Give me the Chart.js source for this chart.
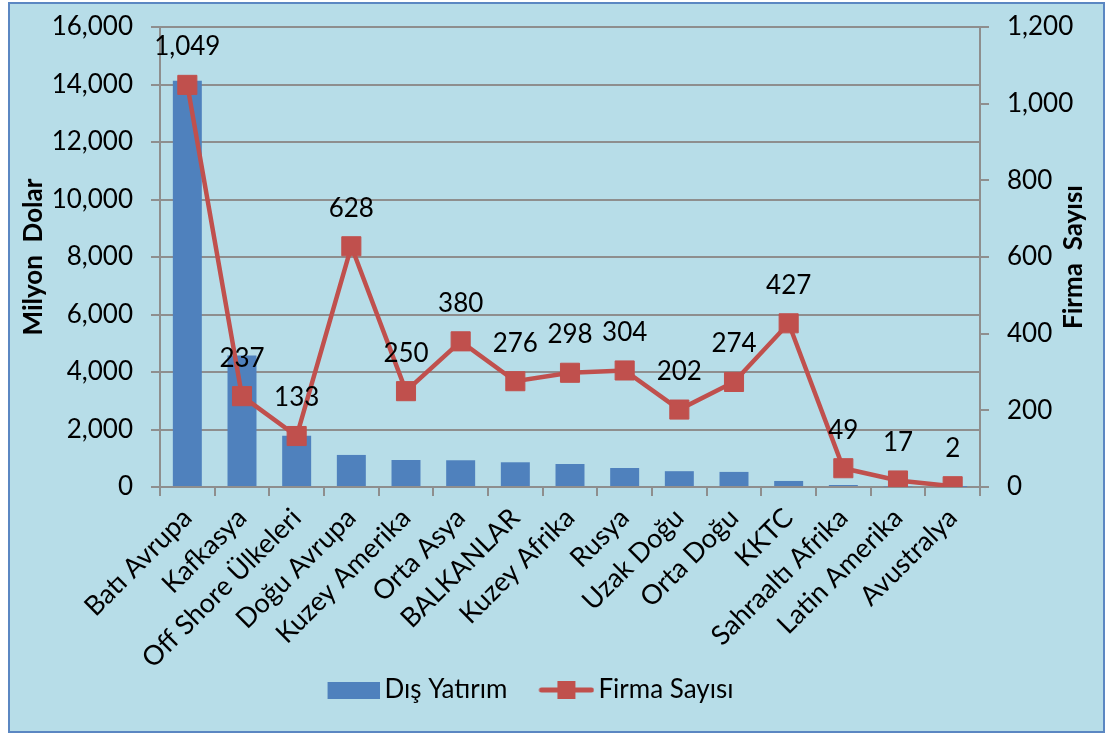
<!DOCTYPE html>
<html>
<head>
<meta charset="utf-8">
<script src="https://cdn.jsdelivr.net/npm/chart.js@4.4.0/dist/chart.umd.min.js"></script>
<style>
  html, body { margin: 0; padding: 0; background: #ffffff; }
  #frame { position: absolute; left: 8px; top: 2px; width: 1093px; height: 727px;
           border: 2px solid #5b87c2; background: #b7dde8; }
  #wrap { position: absolute; left: 0; top: 0; width: 1109px; height: 733px; }
</style>
</head>
<body>
<div id="frame"></div>
<div id="wrap"><canvas id="c" width="1109" height="733"></canvas></div>
<script>
const categories = ["Batı Avrupa", "Kafkasya", "Off Shore Ülkeleri", "Doğu Avrupa", "Kuzey Amerika",
  "Orta Asya", "BALKANLAR", "Kuzey Afrika", "Rusya", "Uzak Doğu", "Orta Doğu", "KKTC",
  "Sahraaltı Afrika", "Latin Amerika", "Avustralya"];
const disYatirim = [14130, 4570, 1780, 1115, 940, 930, 860, 800, 660, 550, 525, 210, 70, 20, 5];
const firmaSayisi = [1049, 237, 133, 628, 250, 380, 276, 298, 304, 202, 274, 427, 49, 17, 2];
const leftTicks = [0, 2000, 4000, 6000, 8000, 10000, 12000, 14000, 16000];
const rightTicks = [0, 200, 400, 600, 800, 1000, 1200];
const seriesNames = ["Dış Yatırım", "Firma Sayısı"];
const axisTitles = ["Milyon  Dolar", "Firma  Sayısı"];

const BLUE = '#4f81bd', RED = '#c0504d', GRID = '#8e8e8e';
const FONT = 'Lato, "Open Sans", sans-serif';
const LEG_BOX = 68;

function fmt(v) { return v.toLocaleString('en-US'); }

// legend icons (drawn centred at x + LEG_BOX/2; content placed right next to the text)
const barIcon = document.createElement('canvas');
barIcon.width = 2 * (LEG_BOX / 2 + 8); barIcon.height = 20;
(function(){ const g = barIcon.getContext('2d'); g.fillStyle = BLUE;
  g.fillRect(barIcon.width - 52, 2, 52, 17); })();
const lineIcon = document.createElement('canvas');
lineIcon.width = 2 * (LEG_BOX / 2 + 9); lineIcon.height = 20;
(function(){ const g = lineIcon.getContext('2d');
  const x1 = lineIcon.width - 56, x2 = lineIcon.width;
  g.strokeStyle = RED; g.lineWidth = 5; g.lineCap = 'round';
  g.beginPath(); g.moveTo(x1 + 3, 10); g.lineTo(x2 - 3, 10); g.stroke();
  g.fillStyle = RED; g.fillRect((x1 + x2) / 2 - 9, 1, 18, 18); })();

const extras = {
  id: 'extras',
  afterDatasetsDraw(chart) {
    const ctx = chart.ctx;
    const meta = chart.getDatasetMeta(1);
    ctx.save();
    ctx.font = '26px ' + FONT;
    ctx.fillStyle = '#000';
    ctx.textAlign = 'center';
    ctx.textBaseline = 'middle';
    meta.data.forEach((pt, i) => {
      ctx.fillText(fmt(firmaSayisi[i]), pt.x, pt.y - 38);
    });
    ctx.restore();
  },
  afterDraw(chart) {
    const ctx = chart.ctx;
    const a = chart.chartArea;
    ctx.save();
    ctx.font = 'bold 26px ' + FONT;
    ctx.fillStyle = '#000';
    ctx.textAlign = 'center';
    ctx.textBaseline = 'middle';
    ctx.translate(1074, (a.top + a.bottom) / 2);
    ctx.rotate(-Math.PI / 2);
    ctx.fillText(axisTitles[1], 0, 0);
    ctx.restore();
  }
};

function noPad(s) { s.paddingTop = 0; s.paddingBottom = 0; }
const PADL = -72;

new Chart(document.getElementById('c'), {
  data: {
    labels: categories,
    datasets: [
      { type: 'bar', label: seriesNames[0], data: disYatirim, yAxisID: 'y',
        backgroundColor: BLUE, borderWidth: 0, barPercentage: 0.53, categoryPercentage: 1, order: 2 },
      { type: 'line', label: seriesNames[1], data: firmaSayisi, yAxisID: 'y1',
        borderColor: RED, borderWidth: 4.5, pointStyle: 'rect', pointRadius: 13.5,
        pointBackgroundColor: RED, pointBorderColor: RED, pointBorderWidth: 1,
        tension: 0, order: 1 }
    ]
  },
  options: {
    responsive: false,
    animation: false,
    layout: { padding: { left: PADL, right: 0, top: 27, bottom: 20 } },
    plugins: {
      tooltip: { enabled: false },
      legend: {
        position: 'bottom',
        labels: {
          usePointStyle: true,
          pointStyleWidth: LEG_BOX,
          padding: 10,
          color: '#000',
          font: { family: FONT, size: 26 },
          generateLabels(chart) {
            return [
              { text: seriesNames[0], pointStyle: barIcon, datasetIndex: 0, fontColor: '#000', lineWidth: 0 },
              { text: seriesNames[1], pointStyle: lineIcon, datasetIndex: 1, fontColor: '#000', lineWidth: 0 }
            ];
          }
        }
      }
    },
    scales: {
      x: {
        grid: { display: true, drawOnChartArea: false, drawTicks: true, tickLength: 9, color: GRID, lineWidth: 2, offset: true },
        border: { display: true, color: GRID, width: 2 },
        ticks: { color: '#000', font: { family: FONT, size: 27 }, maxRotation: 45, minRotation: 45, padding: 6, labelOffset: 0, autoSkip: false },
        afterFit(s) { s.height = 180; s.paddingLeft = 0; s.paddingRight = 0; }
      },
      y: {
        position: 'left',
        min: 0, max: 16000,
        afterBuildTicks(s) { s.ticks = leftTicks.map(v => ({ value: v })); },
        grid: { color: GRID, lineWidth: 2, tickLength: 9 },
        border: { display: true, color: GRID, width: 2 },
        ticks: { color: '#000', font: { family: FONT, size: 26 }, padding: 18, callback: v => fmt(v) },
        title: { display: true, text: axisTitles[0], color: '#000', font: { family: FONT, size: 26, weight: 'bold' }, padding: { top: 18 - PADL, bottom: 0 } },
        afterFit(s) { s.width = 160 - PADL; noPad(s); }
      },
      y1: {
        position: 'right',
        min: 0, max: 1200,
        afterBuildTicks(s) { s.ticks = rightTicks.map(v => ({ value: v })); },
        grid: { drawOnChartArea: false, color: GRID, lineWidth: 2, tickLength: 9 },
        border: { display: true, color: GRID, width: 2 },
        ticks: { color: '#000', font: { family: FONT, size: 26 }, padding: 18, callback: v => fmt(v) },
        afterFit(s) { s.width = 129; noPad(s); }
      }
    }
  },
  plugins: [extras]
});
</script>
</body>
</html>
